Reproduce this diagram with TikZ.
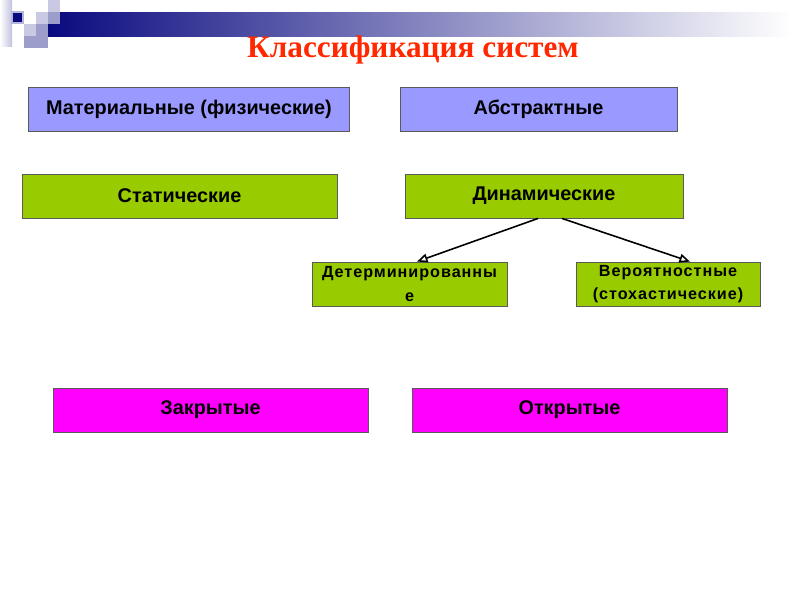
\documentclass[tikz,border=0pt]{standalone}
\usepackage{fontspec}
\setmainfont{Liberation Sans}
\newfontfamily\titlefont{Liberation Serif}
\newfontfamily\spacedfont[LetterSpace=6]{Liberation Sans}
\usetikzlibrary{arrows.meta}

\definecolor{navy}{RGB}{10,10,128}
\definecolor{lilac}{RGB}{153,153,255}
\definecolor{lime}{RGB}{153,204,0}
\definecolor{pinky}{RGB}{255,0,255}
\definecolor{titlered}{RGB}{255,40,0}

\begin{document}
\begin{tikzpicture}[x=0.02cm, y=-0.02cm,
    box/.style={draw=black!65, line width=0.5pt, inner sep=0pt, align=center,
      font=\bfseries\fontsize{11.3}{13}\selectfont},
    smallbox/.style={box, font=\spacedfont\bfseries\fontsize{9.2}{13.5}\selectfont},
    link/.style={line width=0.9pt, -{Triangle[open, length=6pt, width=5pt]}}
  ]

  % Page size
  \useasboundingbox (0,0) rectangle (800,600);

  % Decoration in the top left corner
  \shade[left color=navy, right color=white] (48,12) rectangle (792,36);
  \shade[left color=white, right color=navy!25] (0,0) rectangle (12,46);
  \fill[navy!22] (48,0) rectangle (60,12);
  \fill[navy!22] (36,12) rectangle (48,24);
  \fill[navy!40] (48,12) rectangle (60,24);
  \fill[navy!22] (24,24) rectangle (36,36);
  \fill[navy!40] (36,24) rectangle (48,36);
  \fill[navy!40] (24,36) rectangle (48,48);
  \draw[fill=navy, draw=navy!30, line width=0.6pt] (12,12) rectangle (23,23);

  % Title
  \node[anchor=base, inner sep=0pt, text=titlered,
    font=\titlefont\bfseries\fontsize{17.8}{20}\selectfont]
    (title) at (413,57) {Классификация систем};

  % First row
  \node[box, fill=lilac, minimum width=6.42cm, minimum height=0.88cm]
    (mat) at (189,109) {Материальные (физические)};
  \node[box, fill=lilac, minimum width=5.54cm, minimum height=0.88cm]
    (abs) at (538.5,109) {Абстрактные};

  % Second row
  \node[box, fill=lime, minimum width=6.3cm, minimum height=0.88cm]
    (stat) at (179.5,196) {Статические};
  \node[box, fill=lime, minimum width=5.56cm, minimum height=0.88cm]
    (dyn) at (544,196) {Динамические};

  % Kinds of dynamic systems
  \node[smallbox, fill=lime, minimum width=3.9cm, minimum height=0.88cm]
    (det) at (409.5,284) {Детерминированны\\е};
  \node[smallbox, fill=lime, minimum width=3.68cm, minimum height=0.88cm]
    (prob) at (668,284) {Вероятностные\\(стохастические)};

  \draw[link] ([xshift=-0.12cm]dyn.south) -- ([xshift=0.15cm]det.north);
  \draw[link] ([xshift=0.36cm]dyn.south) -- ([xshift=0.44cm]prob.north);

  % Last row
  \node[box, fill=pinky, minimum width=6.3cm, minimum height=0.88cm]
    (closed) at (210.5,410) {Закрытые};
  \node[box, fill=pinky, minimum width=6.3cm, minimum height=0.88cm]
    (open) at (569.5,410) {Открытые};

\end{tikzpicture}
\end{document}
